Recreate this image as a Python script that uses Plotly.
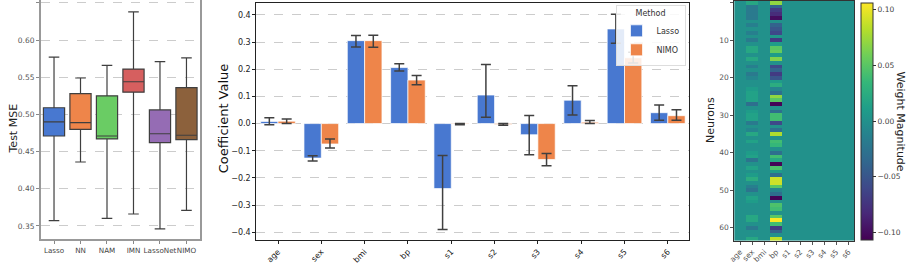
import plotly.graph_objects as go

# ---------------- Data ----------------
# Panel 1: test MSE box statistics
models = ["Lasso", "NN", "NAM", "IMN", "LassoNet", "NIMO"]
mse_upper = [0.577, 0.549, 0.566, 0.638, 0.571, 0.576]
mse_q3 = [0.509, 0.528, 0.525, 0.561, 0.506, 0.536]
mse_median = [0.490, 0.489, 0.471, 0.544, 0.474, 0.472]
mse_q1 = [0.471, 0.480, 0.467, 0.530, 0.462, 0.466]
mse_lower = [0.357, 0.436, 0.360, 0.366, 0.346, 0.371]
box_colors = ["#4878d0", "#ee854a", "#6acc64", "#d65f5f", "#956cb4", "#8c613c"]

# Panel 2: coefficients with confidence intervals
features = ["age", "sex", "bmi", "bp", "s1", "s2", "s3", "s4", "s5", "s6"]
lasso_coef = [0.008, -0.127, 0.305, 0.206, -0.239, 0.105, -0.041, 0.086, 0.348, 0.040]
lasso_ci_high = [0.021, -0.118, 0.324, 0.220, -0.117, 0.217, 0.030, 0.139, 0.402, 0.068]
lasso_ci_low = [-0.004, -0.138, 0.282, 0.193, -0.390, 0.023, -0.115, 0.032, 0.295, 0.012]
nimo_coef = [0.009, -0.075, 0.305, 0.160, -0.002, -0.003, -0.132, 0.005, 0.242, 0.029]
nimo_ci_high = [0.017, -0.057, 0.325, 0.177, 0.000, 0.000, -0.110, 0.011, 0.262, 0.051]
nimo_ci_low = [0.000, -0.090, 0.281, 0.143, -0.004, -0.006, -0.155, 0.000, 0.223, 0.012]

# Panel 3: first-layer weights (64 neurons x 10 features)
neurons = list(range(64))
age_w = [0.0] * 64
sex_w = [0.02, -0.02, -0.02, -0.02, -0.02, 0.0, -0.015, 0.0, -0.015, 0.0,
         -0.02, 0.0, 0.02, 0.02, 0.0, 0.02, 0.0, -0.015, 0.0, -0.02,
         -0.01, 0.0, 0.0, 0.01, 0.015, 0.015, 0.015, -0.03, 0.0, 0.01,
         0.015, 0.015, -0.02, 0.0, -0.01, 0.02, 0.0, 0.015, 0.0, 0.0,
         0.01, 0.015, -0.025, 0.0, 0.015, 0.0, 0.01, 0.025, 0.0, -0.015,
         -0.025, 0.0, 0.015, 0.01, 0.0, 0.0, 0.0, 0.02, 0.02, 0.0,
         -0.02, 0.0, 0.0, 0.02]
bmi_w = [0.0] * 64
bp_w = [0.07, -0.04, -0.07, -0.08, -0.10, 0.0, -0.04, -0.05, -0.06, 0.005,
        -0.07, 0.01, 0.05, 0.055, 0.01, 0.065, 0.0, -0.06, -0.04, -0.07,
        -0.05, 0.01, 0.025, -0.01, -0.03, 0.07, 0.05, -0.105, 0.0, -0.03,
        0.04, 0.04, -0.06, 0.0, -0.03, 0.08, 0.0, 0.04, 0.035, 0.0,
        -0.03, 0.04, 0.02, -0.105, 0.045, 0.01, -0.03, 0.09, 0.09, 0.05,
        -0.01, -0.03, -0.105, 0.0, 0.045, 0.04, 0.0, 0.05, 0.105, 0.04,
        -0.07, -0.04, 0.0, 0.085]
s1_w = [0.0] * 64
s2_w = [0.0] * 64
s3_w = [0.0] * 64
s4_w = [0.0] * 64
s5_w = [0.0] * 64
s6_w = [0.0] * 64

W, H = 913, 265
FONT = "DejaVu Sans"

def fx(px):
    return px / W

def fy(py):
    return (H - py) / H

fig = go.Figure()

# ---------------- Panel 1: boxes ----------------
for i, m in enumerate(models):
    fig.add_trace(go.Box(
        x=[m], q1=[mse_q1[i]], median=[mse_median[i]], q3=[mse_q3[i]],
        lowerfence=[mse_lower[i]], upperfence=[mse_upper[i]],
        fillcolor=box_colors[i], line=dict(color="#3f3f3f", width=1.2),
        whiskerwidth=0.5, width=0.8, boxpoints=False, showlegend=False,
        xaxis="x", yaxis="y", hoverinfo="skip"))

# ---------------- Panel 2: bars ----------------
lasso_up = [h - v for h, v in zip(lasso_ci_high, lasso_coef)]
lasso_dn = [v - l for l, v in zip(lasso_ci_low, lasso_coef)]
nimo_up = [h - v for h, v in zip(nimo_ci_high, nimo_coef)]
nimo_dn = [v - l for l, v in zip(nimo_ci_low, nimo_coef)]

fig.add_trace(go.Bar(
    x=features, y=lasso_coef, name="Lasso", marker=dict(color="#4878d0",
    line=dict(color="rgba(255,255,255,0.7)", width=1)),
    error_y=dict(type="data", symmetric=False, array=lasso_up, arrayminus=lasso_dn,
                 color="#404040", thickness=1.5, width=5),
    xaxis="x2", yaxis="y2"))
fig.add_trace(go.Bar(
    x=features, y=nimo_coef, name="NIMO", marker=dict(color="#ee854a",
    line=dict(color="rgba(255,255,255,0.7)", width=1)),
    error_y=dict(type="data", symmetric=False, array=nimo_up, arrayminus=nimo_dn,
                 color="#404040", thickness=1.5, width=5),
    xaxis="x2", yaxis="y2"))

# ---------------- Panel 3: heatmap ----------------
cols = [age_w, sex_w, bmi_w, bp_w, s1_w, s2_w, s3_w, s4_w, s5_w, s6_w]
z = [[c[r] for c in cols] for r in neurons]
fig.add_trace(go.Heatmap(
    z=z, x=features, y=neurons, colorscale="Viridis", zmin=-0.107, zmax=0.106,
    xaxis="x3", yaxis="y3", showscale=True,
    colorbar=dict(x=fx(861), xanchor="left", thickness=12, thicknessmode="pixels",
                  len=240 / H, lenmode="fraction", y=fy(123), yanchor="middle",
                  tickvals=[-0.1, -0.05, 0.0, 0.05, 0.1],
                  ticktext=["\u22120.10", "\u22120.05", "0.00", "0.05", "0.10"],
                  ticks="outside", ticklen=3, tickcolor="#333",
                  tickfont=dict(family=FONT, size=7.5, color="#444"),
                  outlinecolor="#333", outlinewidth=1, xpad=0, ypad=0)))

grid_dash = dict(showgrid=True, gridcolor="#cccccc", griddash="dash", gridwidth=0.8)

fig.update_layout(
    width=W, height=H, margin=dict(l=0, r=0, t=0, b=0),
    paper_bgcolor="white", plot_bgcolor="white",
    font=dict(family=FONT, color="#222"),
    barmode="group", bargap=0.2, bargroupgap=0.0,
    showlegend=True,
    legend=dict(x=fx(684), xanchor="right", y=fy(5), yanchor="top",
                bgcolor="rgba(255,255,255,0.85)", bordercolor="#dddddd", borderwidth=1,
                title=dict(text="Method", side="top center", font=dict(family=FONT, size=8, color="#333")),
                font=dict(family=FONT, size=8, color="#333"),
                itemwidth=30, tracegroupgap=0),
    xaxis=dict(domain=[fx(35), fx(195)], anchor="y", showline=True, linecolor="#999999",
               linewidth=1.5, mirror=False, ticks="outside", ticklen=3, tickcolor="#888",
               tickangle=0,
               tickfont=dict(family=FONT, size=7.2, color="#444"), showgrid=False,
               range=[-0.5, 5.5], categoryorder="array", categoryarray=models),
    yaxis=dict(domain=[fy(242), 1.0], anchor="x", range=[0.332, 0.654], showline=True,
               linecolor="#999999", linewidth=1.5, mirror=True, ticks="outside", ticklen=3,
               tickcolor="#888", tickvals=[0.35, 0.40, 0.45, 0.50, 0.55, 0.60, 0.65],
               ticktext=["0.35", "0.40", "0.45", "0.50", "0.55", "0.60", "0.65"],
               tickfont=dict(family=FONT, size=7.5, color="#555"), zeroline=False, **grid_dash),
    xaxis2=dict(domain=[fx(252), fx(688)], anchor="y2", showline=True, linecolor="#222",
                linewidth=1.2, mirror=True, ticks="outside", ticklen=3, tickcolor="#222",
                tickangle=-45, tickfont=dict(family=FONT, size=8, color="#222"), showgrid=False),
    yaxis2=dict(domain=[fy(242.7), fy(3.3)], anchor="x2", range=[-0.428, 0.4425], showline=True,
                linecolor="#222", linewidth=1.2, mirror=True, ticks="outside", ticklen=3,
                tickcolor="#222", tickvals=[-0.4, -0.3, -0.2, -0.1, 0.0, 0.1, 0.2, 0.3, 0.4],
                ticktext=["\u22120.4", "\u22120.3", "\u22120.2", "\u22120.1", "0.0", "0.1", "0.2", "0.3", "0.4"],
                tickfont=dict(family=FONT, size=8, color="#222"), zeroline=False, **grid_dash),
    xaxis3=dict(domain=[fx(733), fx(854)], anchor="y3", showline=True, linecolor="#333",
                linewidth=1, mirror=True, ticks="outside", ticklen=3, tickcolor="#555",
                tickangle=-45, tickfont=dict(family=FONT, size=7.5, color="#555"), showgrid=False),
    yaxis3=dict(domain=[fy(243.4), fy(0.8)], anchor="x3", autorange="reversed", showline=True,
                linecolor="#333", linewidth=1, mirror=True, ticks="outside", ticklen=3,
                tickcolor="#555", tickvals=[0, 10, 20, 30, 40, 50, 60],
                tickfont=dict(family=FONT, size=7.5, color="#555"), showgrid=False, zeroline=False),
    annotations=[
        dict(text="Test MSE", x=fx(8), y=fy(130), xref="paper", yref="paper", textangle=-90,
             showarrow=False, font=dict(family=FONT, size=11, color="#222"), xanchor="center", yanchor="middle"),
        dict(text="Coefficient Value", x=fx(219), y=fy(120), xref="paper", yref="paper", textangle=-90,
             showarrow=False, font=dict(family=FONT, size=13, color="#111"), xanchor="center", yanchor="middle"),
        dict(text="Neurons", x=fx(709), y=fy(121), xref="paper", yref="paper", textangle=-90,
             showarrow=False, font=dict(family=FONT, size=11, color="#222"), xanchor="center", yanchor="middle"),
        dict(text="Weight Magnitude", x=fx(900), y=fy(123), xref="paper", yref="paper", textangle=90,
             showarrow=False, font=dict(family=FONT, size=11, color="#222"), xanchor="center", yanchor="middle"),
    ],
)

fig.write_html("out.html", config={"displayModeBar": False},
               post_script="document.body.style.margin='0';document.body.style.overflow='hidden';")
